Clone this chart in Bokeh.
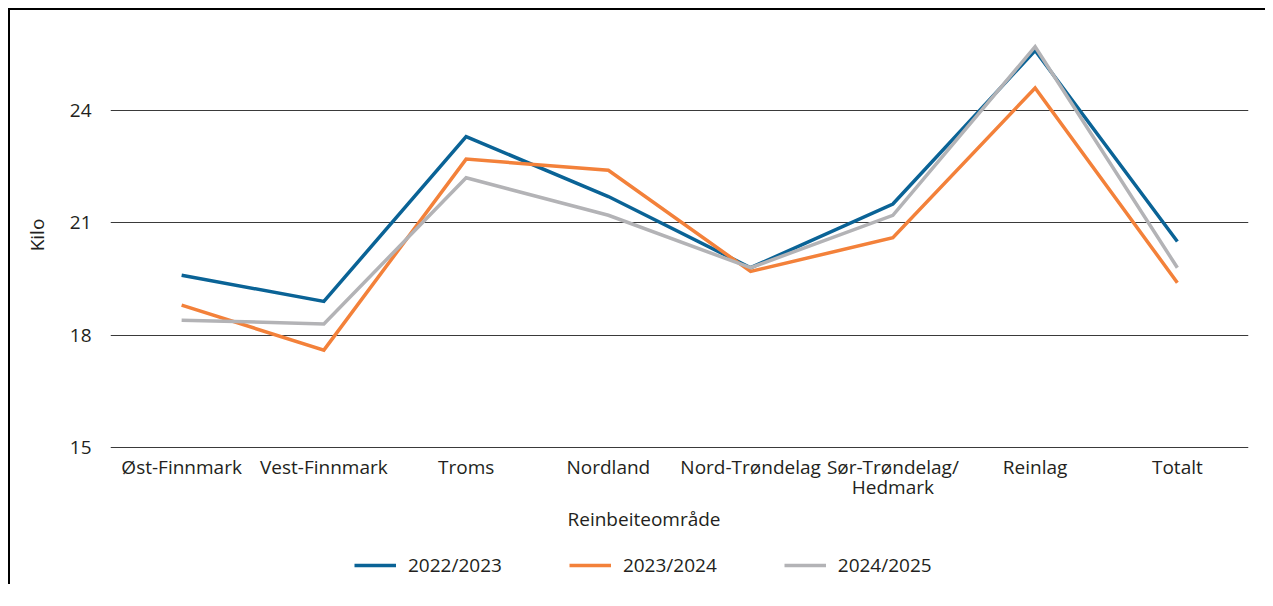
from bokeh.plotting import figure
from bokeh.layouts import column
from bokeh.models import FactorRange, Range1d, FixedTicker, Legend, LegendItem, Title
from bokeh.embed import file_html
from bokeh.resources import INLINE

categories = ["Øst-Finnmark", "Vest-Finnmark", "Troms", "Nordland", "Nord-Trøndelag",
              "Sør-Trøndelag/\nHedmark", "Reinlag", "Totalt"]
series_names = ["2022/2023", "2023/2024", "2024/2025"]
v_2022_2023 = [19.6, 18.9, 23.3, 21.7, 19.8, 21.5, 25.6, 20.5]
v_2023_2024 = [18.8, 17.6, 22.7, 22.4, 19.7, 20.6, 24.6, 19.4]
v_2024_2025 = [18.4, 18.3, 22.2, 21.2, 19.8, 21.2, 25.7, 19.8]
y_ticks = [15, 18, 21, 24]
colors = ["#0a6396", "#f3813a", "#b3b3b6"]

FONT = "Open Sans"
TXT = "#231f20"
FS = "19px"
series = [v_2022_2023, v_2023_2024, v_2024_2025]

p = figure(x_range=FactorRange(factors=categories), y_range=Range1d(14.947, 26.4),
           frame_width=1138, frame_height=429,
           min_border_left=100, min_border_top=10, min_border_right=17, min_border_bottom=90,
           output_backend="svg", toolbar_location=None)
p.outline_line_color = None
p.background_fill_color = "white"
p.border_fill_color = "white"

# axes
p.yaxis.ticker = FixedTicker(ticks=y_ticks)
p.yaxis.axis_line_color = None
p.yaxis.major_tick_line_color = None
p.yaxis.minor_tick_line_color = None
p.yaxis.major_label_standoff = 13
p.yaxis.axis_label = "Kilo"
p.yaxis.axis_label_standoff = 17
p.yaxis.axis_label_text_font_style = "normal"
p.xaxis.axis_line_color = None
p.xaxis.major_tick_line_color = None
p.xaxis.minor_tick_line_color = None
p.xaxis.major_tick_in = 0
p.xaxis.major_tick_out = 0
p.xaxis.major_label_standoff = 4
p.xaxis.major_label_text_line_height = 0.8
for ax in (p.xaxis, p.yaxis):
    ax.major_label_text_font = FONT
    ax.major_label_text_font_size = FS
    ax.major_label_text_color = TXT
    ax.axis_label_text_font = FONT
    ax.axis_label_text_font_size = FS
    ax.axis_label_text_color = TXT

p.xgrid.grid_line_color = None
p.ygrid.grid_line_color = "#3a3a3a"
p.ygrid.grid_line_width = 1
p.ygrid.ticker = FixedTicker(ticks=y_ticks)

for vals, col in zip(series, colors):
    p.line(categories, vals, line_color=col, line_width=3.5, line_join="miter")

xt = Title(text="Reinbeiteområde", align="left", offset=457, text_font=FONT,
           text_font_size=FS, text_font_style="normal", text_color=TXT, standoff=0)
p.add_layout(xt, "below")

# legend strip: a second figure holding the same series (outside its visible range) and the legend
p2 = figure(width=1255, height=45, x_range=FactorRange(factors=categories), y_range=Range1d(100, 101),
            x_axis_type=None, y_axis_type=None, min_border=0,
            output_backend="svg", toolbar_location=None)
p2.outline_line_color = None
p2.background_fill_color = "white"
p2.border_fill_color = "white"
proxies = [p2.line(categories, vals, line_color=col, line_width=3.5) for vals, col in zip(series, colors)]

legend = Legend(items=[LegendItem(label=n, renderers=[r]) for n, r in zip(series_names, proxies)],
                orientation="horizontal", location=(244, 6), glyph_width=42, glyph_height=20,
                label_standoff=12, spacing=67, padding=0, margin=0,
                border_line_color=None, background_fill_alpha=0,
                label_text_font=FONT, label_text_font_size=FS, label_text_color=TXT)
p2.add_layout(legend, "center")

layout = column(p, p2, spacing=0,
                styles={"border-left": "2px solid black", "border-top": "2px solid black",
                        "margin-left": "8px", "margin-top": "8px"})

open("out.html", "w").write(file_html(layout, INLINE))
